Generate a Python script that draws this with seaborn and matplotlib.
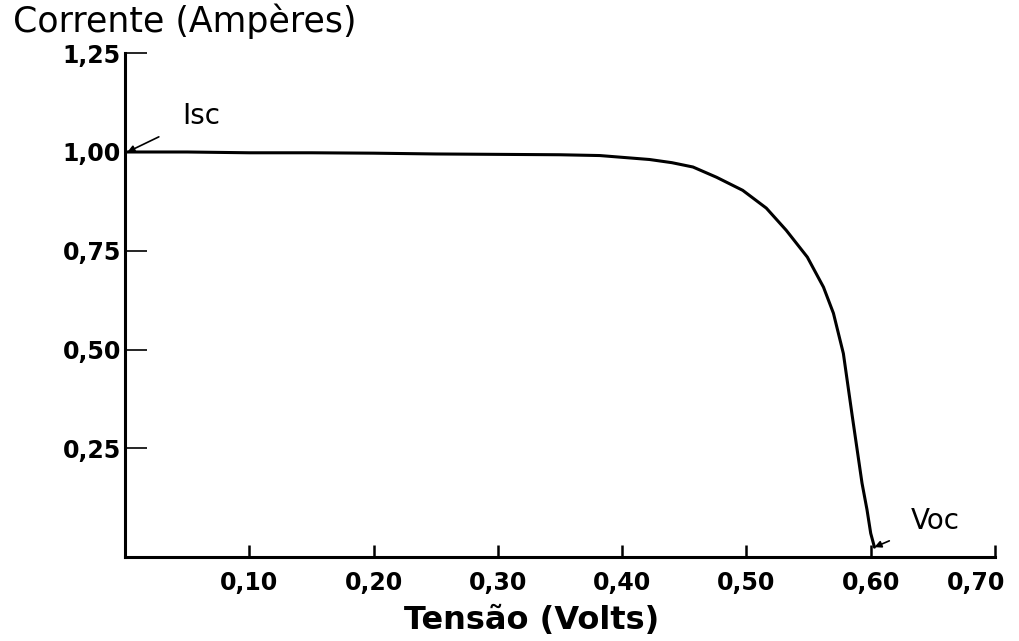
import matplotlib
matplotlib.use("Agg")
import matplotlib.pyplot as plt
import matplotlib.transforms as mtransforms
import seaborn as sns
import pandas as pd

# Data
tensao = [0.0, 0.05, 0.10, 0.15, 0.20, 0.25, 0.30, 0.35, 0.382, 0.422, 0.44,
          0.457, 0.476, 0.497, 0.516, 0.532, 0.549, 0.562, 0.570, 0.578, 0.585,
          0.593, 0.597, 0.600, 0.603]
corrente = [1.000, 1.000, 0.998, 0.998, 0.997, 0.995, 0.994, 0.993, 0.991, 0.981,
            0.973, 0.962, 0.936, 0.903, 0.858, 0.802, 0.734, 0.658, 0.592, 0.490,
            0.335, 0.162, 0.095, 0.035, 0.0]
x_ticks = [0.10, 0.20, 0.30, 0.40, 0.50, 0.60, 0.70]
x_ticklabels = ["0,10", "0,20", "0,30", "0,40", "0,50", "0,60", "0,70"]
y_ticks = [0.25, 0.50, 0.75, 1.00, 1.25]
y_ticklabels = ["0,25", "0,50", "0,75", "1,00", "1,25"]

sns.set_theme(style="white")
plt.rcParams['font.family'] = ['DejaVu Sans']
plt.rcParams['text.color'] = 'black'
plt.rcParams['axes.labelcolor'] = 'black'

fig = plt.figure(figsize=(10.2, 6.41), dpi=100)
ax = fig.add_axes([0.1225, 0.131, 0.853, 0.786])

df = pd.DataFrame({"V": tensao, "I": corrente})
sns.lineplot(data=df, x="V", y="I", ax=ax, color="black", linewidth=2.2,
             estimator=None, sort=False)

ax.set_xlim(0, 0.70)
ax.set_ylim(-0.025, 1.25)

for s in ["top", "right"]:
    ax.spines[s].set_visible(False)
for s in ["left", "bottom"]:
    ax.spines[s].set_color("black")
    ax.spines[s].set_linewidth(2.2)

ax.set_xticks(x_ticks)
ax.set_xticklabels(x_ticklabels, fontsize=17, fontweight="bold")
ax.set_yticks(y_ticks)
ax.set_yticklabels(y_ticklabels, fontsize=17, fontweight="bold")
ax.tick_params(axis="x", direction="in", length=9, width=1.8, pad=10, colors="black")
ax.tick_params(axis="y", direction="in", length=16, width=1.2, pad=3, colors="black")
ax.tick_params(bottom=True, left=True)

# nudge the last x tick label left so it stays inside the figure
last = ax.get_xticklabels()[-1]
last.set_transform(last.get_transform() +
                   mtransforms.ScaledTranslation(-14 / 72, 0, fig.dpi_scale_trans))

ax.set_xlabel("Tensão (Volts)", fontsize=23, fontweight="bold")
ax.xaxis.set_label_coords(0.467, -0.095)
ax.set_ylabel("")
fig.text(0.013, 0.995, "Corrente (Ampères)", fontsize=25, ha="left", va="top")

ax.annotate("Isc", xy=(0.002, 1.0), xytext=(0.046, 1.09), fontsize=20,
            ha="left", va="center",
            arrowprops=dict(arrowstyle="-|>", color="black", lw=1.2,
                            shrinkA=16, shrinkB=0, mutation_scale=10))
ax.annotate("Voc", xy=(0.603, 0.0), xytext=(0.632, 0.065), fontsize=20,
            ha="left", va="center",
            arrowprops=dict(arrowstyle="-|>", color="black", lw=1.2,
                            shrinkA=14, shrinkB=0, mutation_scale=10))

fig.savefig("out.png", dpi=100, facecolor="white")
